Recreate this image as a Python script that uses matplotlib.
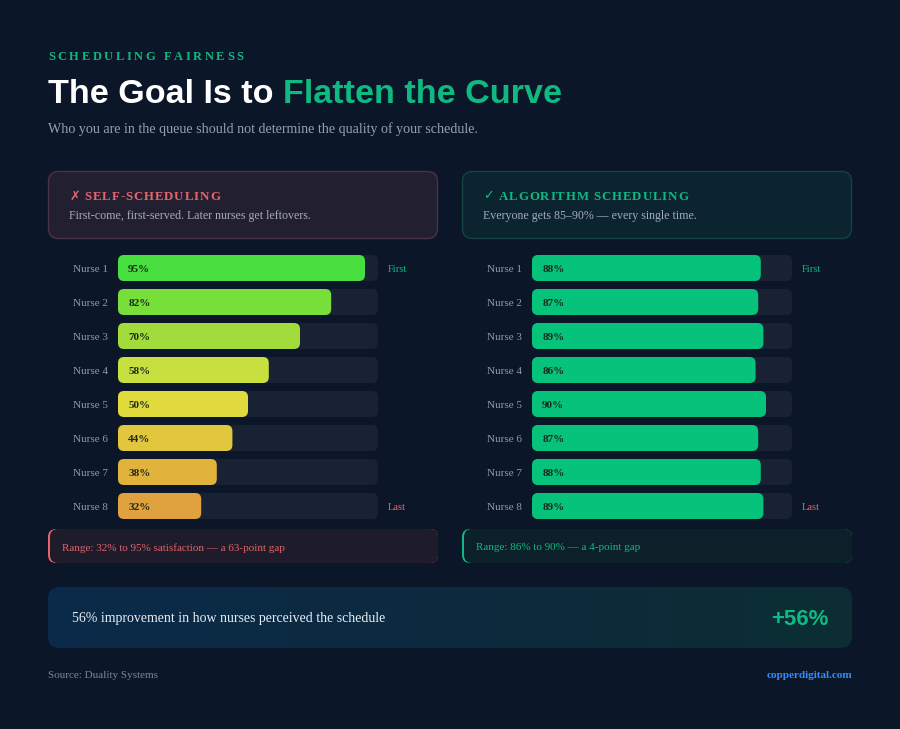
import numpy as np
import matplotlib.pyplot as plt
from matplotlib.patches import FancyBboxPatch
from matplotlib.colors import LinearSegmentedColormap

# data
nurses = ["Nurse 1", "Nurse 2", "Nurse 3", "Nurse 4", "Nurse 5", "Nurse 6", "Nurse 7", "Nurse 8"]
self_sched = [95, 82, 70, 58, 50, 44, 38, 32]
algo_sched = [88, 87, 89, 86, 90, 87, 88, 89]
self_colors = ["#48de40", "#78de3a", "#a2dc3c", "#c8df40", "#e0da3c", "#e2c63e", "#e2b33c", "#e0a23e"]
algo_color = "#06c27a"

BG = "#0b1628"
TRACK = "#192233"
GREEN = "#10b981"
RED = "#e8646a"
SERIF = ["Liberation Serif", "DejaVu Sans"]
SANS = ["Liberation Sans", "DejaVu Sans"]

fig = plt.figure(figsize=(9, 7.29), dpi=100, facecolor=BG)
ax = fig.add_axes([0, 0, 1, 1])
ax.set_xlim(0, 900)
ax.set_ylim(729, 0)
ax.axis("off")
ax.set_facecolor(BG)


def box(x0, y0, x1, y1, fc, ec="none", r=10, lw=1, z=1):
    p = FancyBboxPatch((x0, y0), x1 - x0, y1 - y0, boxstyle=f"round,pad=0,rounding_size={r}",
                       fc=fc, ec=ec, lw=lw, zorder=z)
    ax.add_patch(p)
    return p


def spaced(x, y, s, gap, **kw):
    r = fig.canvas.get_renderer()
    for ch in s:
        if ch == " ":
            x += kw.get("fontsize", 10) * 0.35 + gap
            continue
        t = ax.text(x, y, ch, **kw)
        x += t.get_window_extent(r).width + gap
    return x


# header
spaced(48, 55, "SCHEDULING FAIRNESS", 2.6, fontsize=9.0, fontweight="bold", color=GREEN,
       family=SERIF, va="center_baseline")
r = fig.canvas.get_renderer()
t1 = ax.text(48, 103, "The Goal Is to ", fontsize=24.6, fontweight="bold", color="white",
             family=SANS, va="baseline")
w1 = t1.get_window_extent(r).width
ax.text(48 + w1, 103, "Flatten the Curve", fontsize=24.6, fontweight="bold", color=GREEN,
        family=SANS, va="baseline")
ax.text(48, 128, "Who you are in the queue should not determine the quality of your schedule.",
        fontsize=10.1, color="#94a0b4", family=SERIF, va="center_baseline")

# panel header boxes
box(48.5, 171.5, 437.5, 238.5, "#221f30", "#4a3347", r=10)
box(462.5, 171.5, 851.5, 238.5, "#0c2330", "#15433f", r=10)
spaced(69, 195, "✗ SELF-SCHEDULING", 0.9, fontsize=9.3, fontweight="bold", color=RED,
       family=SERIF, va="center_baseline")
ax.text(69, 214, "First-come, first-served. Later nurses get leftovers.", fontsize=8.6,
        color="#a4acbc", family=SERIF, va="center_baseline")
spaced(483, 195, "✓ ALGORITHM SCHEDULING", 0.9, fontsize=9.3, fontweight="bold", color=GREEN,
       family=SERIF, va="center_baseline")
ax.text(483, 214, "Everyone gets 85–90% — every single time.", fontsize=8.6,
        color="#a4acbc", family=SERIF, va="center_baseline")


def panel(left_px, values, colors):
    pax = fig.add_axes([left_px / 900, (729 - 523) / 729, 260 / 900, 272 / 729])
    pax.set_xlim(0, 100)
    pax.set_ylim(7.5, -0.5)
    pax.axis("off")
    h = 26 / 34
    asp = 2.6 / 34
    for i, (name, v, c) in enumerate(zip(nurses, values, colors)):
        pax.add_patch(FancyBboxPatch((0, i - h / 2), 100, h,
                                     boxstyle="round,pad=0,rounding_size=2.3",
                                     mutation_aspect=asp, fc=TRACK, ec="none"))
        pax.add_patch(FancyBboxPatch((0, i - h / 2), v, h,
                                     boxstyle="round,pad=0,rounding_size=2.3",
                                     mutation_aspect=asp, fc=c, ec="none"))
        pax.text(3.9, i, f"{v}%", fontsize=8, fontweight="bold", color="#1a2a1a",
                 family=SERIF, va="center_baseline")
        pax.text(-3.9, i, name, fontsize=8, color="#8e9ab0", family=SERIF,
                 va="center_baseline", ha="right", clip_on=False)
    pax.text(103.8, 0, "First", fontsize=7.6, color=GREEN, family=SERIF,
             va="center_baseline", clip_on=False)
    pax.text(103.8, 7, "Last", fontsize=7.6, color=RED, family=SERIF,
             va="center_baseline", clip_on=False)


panel(118, self_sched, self_colors)
panel(532, algo_sched, [algo_color] * len(algo_sched))

# range boxes with left accent
box(48, 529, 438, 563, RED, r=8)
box(50, 529, 438, 563, "#1e1b2b", r=8, z=2)
ax.text(62, 547, "Range: 32% to 95% satisfaction — a 63-point gap", fontsize=8, color="#e0646a",
        family=SERIF, va="center_baseline", zorder=3)
box(462, 529, 852, 563, GREEN, r=8)
box(464, 529, 852, 563, "#0c2029", r=8, z=2)
ax.text(476, 547, "Range: 86% to 90% — a 4-point gap", fontsize=8, color=GREEN,
        family=SERIF, va="center_baseline", zorder=3)

# banner with gradient
bp = box(48, 587, 852, 648, "none", r=12)
cmap = LinearSegmentedColormap.from_list("ban", ["#0b2a4a", "#0b2a3e", "#0c2e33"])
im = ax.imshow(np.linspace(0, 1, 512)[None, :], cmap=cmap, aspect="auto",
               extent=(48, 852, 648, 587), zorder=1, interpolation="bilinear")
im.set_clip_path(bp)
ax.set_xlim(0, 900)
ax.set_ylim(729, 0)
ax.text(72, 617, "56% improvement in how nurses perceived the schedule", fontsize=10,
        color="#e8eef6", family=SERIF, va="center_baseline", zorder=3)
ax.text(828, 617, "+56%", fontsize=16, fontweight="bold", color=GREEN, family=SANS,
        va="center_baseline", ha="right", zorder=3)

# footer
ax.text(48, 675, "Source: Duality Systems", fontsize=8, color="#7c8696", family=SERIF,
        va="center_baseline")
ax.text(852, 675, "copperdigital.com", fontsize=8, fontweight="bold", color="#2e8fff",
        family=SERIF, va="center_baseline", ha="right")

fig.savefig("out.png", dpi=100, facecolor=BG)
